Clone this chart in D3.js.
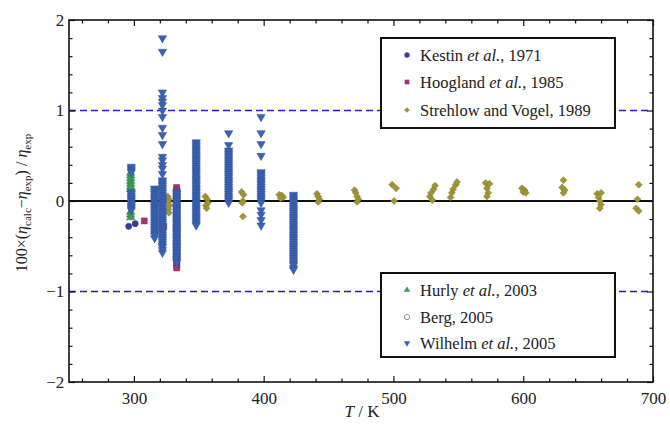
<!DOCTYPE html>
<html><head><meta charset="utf-8">
<script src="https://cdn.jsdelivr.net/npm/d3@7"></script>
<style>body{margin:0;background:#fff}svg{display:block}text{font-family:"Liberation Serif","DejaVu Serif",serif;fill:#222}</style>
</head><body><svg id="c" width="670" height="427"></svg>
<script>
// ---- data ----
const xMajorTicks = [300, 400, 500, 600, 700];
const yMajorTicks = [-2, -1, 0, 1, 2];
const kestin = [[296, -0.28], [301, -0.25]];
const hoogland = [[308, -0.22], [323, -0.28]];
const hooglandT333 = [0.15,0.12,0.09,0.06,0.03,0.0,-0.03,-0.06,-0.09,-0.12,-0.15,-0.18,-0.21,-0.24,-0.27,-0.3,-0.33,-0.36,-0.39,-0.42,-0.45,-0.48,-0.51,-0.54,-0.57,-0.6,-0.63,-0.66,-0.69,-0.72,-0.74];
const strehlow = [
  [326,0.05],[327,0.02],[326.5,-0.01],[327.5,-0.05],[326.5,-0.09],[327,-0.13],
  [355,0.05],[356.5,0.02],[357,-0.02],[355.5,-0.05],[356,-0.08],
  [383,0.1],[384.5,0.07],[384,0.0],[383.5,-0.02],[384,-0.17],
  [412,0.07],[414,0.06],[415,0.04],[413,0.03],
  [441,0.08],[442,0.05],[443,0.02],[442,-0.01],
  [470,0.12],[471,0.09],[472,0.05],[473,0.02],[472,-0.01],
  [499,0.18],[502,0.14],[500.5,0.0],
  [528,0.05],[529,0.09],[531,0.13],[532,0.17],[530,0.01],
  [544,0.04],[545,0.09],[546,0.13],[548,0.18],[549,0.21],
  [571,0.2],[574,0.19],[572,0.14],[573,0.09],[572,0.05],
  [599,0.14],[601,0.12],[600,0.1],[602,0.09],
  [631,0.23],[630,0.15],[632,0.12],[631,0.09],
  [657,0.08],[660,0.09],[658,0.04],[659,0.0],[660,-0.04],[659,-0.08],
  [689,0.18],[688,0.02],[687,-0.08],[689,-0.11]
];
const hurly = [[297.5,0.31],[297.5,0.28],[297.5,0.25],[297.5,0.22],[297.5,0.19],[297.5,0.16],[297.5,0.13],[297.5,-0.12],[297.5,-0.15],[297.5,-0.18]];
const berg = [[298, 0.0], [298, -0.04]];
const wilhelmTemps = [298, 316, 322, 333, 348, 373, 398, 423];
const wilhelmValues = [
  [0.38,0.36,0.34,0.32,0.1,0.08,0.06,0.04,0.02,0.0,-0.02,-0.04,-0.06,-0.08,-0.1],
  [0.14,0.12,0.1,0.08,0.06,0.04,0.02,0.0,-0.02,-0.04,-0.06,-0.08,-0.1,-0.12,-0.14,-0.16,-0.18,-0.2,-0.22,-0.24,-0.26,-0.28,-0.3,-0.32,-0.34,-0.36,-0.38,-0.41],
  [1.80,1.65,1.20,1.14,1.10,1.06,1.00,0.93,0.81,0.73,0.63,0.49,0.45,0.40,0.36,0.30,0.23,0.21,0.19,0.17,0.15,0.13,0.11,0.09,0.07,0.05,0.03,0.01,-0.01,-0.03,-0.05,-0.07,-0.09,-0.11,-0.13,-0.15,-0.17,-0.19,-0.21,-0.23,-0.25,-0.27,-0.29,-0.31,-0.33,-0.35,-0.37,-0.39,-0.41,-0.43,-0.45,-0.47,-0.49,-0.51,-0.54,-0.57],
  [0.1,0.08,0.06,0.04,0.02,0.0,-0.02,-0.04,-0.06,-0.08,-0.1,-0.12,-0.14,-0.16,-0.18,-0.2,-0.22,-0.24,-0.26,-0.28,-0.3,-0.32,-0.34,-0.36,-0.38,-0.4,-0.42,-0.44,-0.46,-0.48,-0.5,-0.52,-0.54,-0.56,-0.58,-0.6,-0.62,-0.64,-0.66,-0.68],
  [0.65,0.63,0.61,0.59,0.57,0.55,0.53,0.51,0.49,0.47,0.45,0.43,0.41,0.39,0.37,0.35,0.33,0.31,0.29,0.27,0.25,0.23,0.21,0.19,0.17,0.15,0.13,0.11,0.09,0.07,0.05,0.03,0.01,-0.01,-0.03,-0.05,-0.07,-0.09,-0.11,-0.13,-0.15,-0.17,-0.19,-0.21,-0.23,-0.25,-0.27],
  [0.75,0.62,0.56,0.54,0.52,0.5,0.48,0.46,0.44,0.42,0.4,0.38,0.36,0.34,0.32,0.3,0.28,0.26,0.24,0.22,0.2,0.18,0.16,0.14,0.12,0.1,0.08,0.06,0.04,0.02,0.0,-0.02],
  [0.93,0.75,0.63,0.5,0.32,0.3,0.28,0.26,0.24,0.22,0.2,0.18,0.16,0.14,0.12,0.1,0.08,0.06,0.04,0.02,0.0,-0.02,-0.1,-0.15,-0.21,-0.27],
  [0.07,0.05,0.03,0.01,-0.01,-0.03,-0.05,-0.07,-0.09,-0.11,-0.13,-0.15,-0.17,-0.19,-0.21,-0.23,-0.25,-0.27,-0.29,-0.31,-0.33,-0.35,-0.37,-0.39,-0.41,-0.43,-0.45,-0.47,-0.49,-0.51,-0.53,-0.55,-0.57,-0.59,-0.61,-0.63,-0.65,-0.67,-0.69,-0.71,-0.74,-0.76]
];

// ---- build ----
const svg = d3.select("#c");
const x = d3.scaleLinear().domain([250, 700]).range([69, 653]);
const y = d3.scaleLinear().domain([-2, 2]).range([382, 20]);
const col = {kestin:"#3c3a98", hoogland:"#a0366f", strehlow:"#9f9537", hurly:"#3f9b55", berg:"#999", wilhelm:"#3b62b3"};
const edge = {kestin:"#2e2c80", hoogland:"#86285a", strehlow:"#857b2a", hurly:"#2f8245", berg:"#999", wilhelm:"#2e4e98"};

// reference lines
[1, -1].forEach(v => svg.append("line").attr("x1", x(250)).attr("x2", x(700)).attr("y1", y(v)).attr("y2", y(v))
  .attr("stroke", "#1c1cd0").attr("stroke-width", 1.6).attr("stroke-dasharray", "7,4"));
svg.append("line").attr("x1", x(250)).attr("x2", x(700)).attr("y1", y(0)).attr("y2", y(0)).attr("stroke", "#111").attr("stroke-width", 1.8);

const sym = {
  circle: d3.symbol().type(d3.symbolCircle).size(30)(),
  square: d3.symbol().type(d3.symbolSquare).size(36)(),
  diamond: d3.symbol().type(d3.symbolSquare).size(24)(),
  tri: d3.symbol().type(d3.symbolTriangle).size(30)()
};
function plot(data, path, key, rot, open) {
  svg.append("g").selectAll("path").data(data).join("path")
    .attr("d", path)
    .attr("transform", d => `translate(${x(d[0])},${y(d[1])}) rotate(${rot})`)
    .attr("fill", open ? "none" : col[key])
    .attr("stroke", edge[key]).attr("stroke-width", open ? 1 : 0.5);
}
plot(kestin, sym.circle, "kestin", 0);
plot(hoogland.concat(hooglandT333.map(v => [333, v])), sym.square, "hoogland", 0);
plot(strehlow, sym.diamond, "strehlow", 45);
plot(hurly, sym.tri, "hurly", 0);
plot(berg, sym.circle, "berg", 0, true);
const wilhelm = wilhelmTemps.flatMap((t, i) => wilhelmValues[i].map(v => [t, v]));
plot(wilhelm, sym.tri, "wilhelm", 180);

// axes (ticks inward)
const xMinor = d3.range(260, 701, 20).filter(v => !xMajorTicks.includes(v));
const yMinor = d3.range(-1.8, 2, 0.2).map(v => +v.toFixed(1)).filter(v => !yMajorTicks.includes(v));
function ax(gen, scale, vals, size, tr, labels) {
  const g = svg.append("g").attr("transform", tr)
    .call(gen(scale).tickValues(vals).tickSize(size).tickFormat(labels ? (d => d < 0 ? "\u2212" + Math.abs(d) : d) : ""));
  g.select(".domain").remove();
  g.selectAll(".tick line").attr("stroke", "#111").attr("stroke-width", 1.2);
  return g;
}
const bx = ax(d3.axisBottom, x, xMajorTicks, -6, `translate(0,${y(-2)})`, true);
ax(d3.axisBottom, x, xMinor, -3.5, `translate(0,${y(-2)})`, false);
ax(d3.axisTop, x, xMajorTicks, -6, `translate(0,${y(2)})`, false);
ax(d3.axisTop, x, xMinor, -3.5, `translate(0,${y(2)})`, false);
const ly = ax(d3.axisLeft, y, yMajorTicks, -6, `translate(${x(250)},0)`, true);
ax(d3.axisLeft, y, yMinor, -3.5, `translate(${x(250)},0)`, false);
ax(d3.axisRight, y, yMajorTicks, -6, `translate(${x(700)},0)`, false);
ax(d3.axisRight, y, yMinor, -3.5, `translate(${x(700)},0)`, false);
bx.selectAll(".tick text").attr("font-size", 17).attr("font-family", "Liberation Serif").attr("fill", "#222").attr("dy", "1.1em");
ly.selectAll(".tick text").attr("font-size", 17).attr("font-family", "Liberation Serif").attr("fill", "#222").attr("dx", "-0.1em");

svg.append("rect").attr("x", x(250)).attr("y", y(2)).attr("width", x(700) - x(250)).attr("height", y(-2) - y(2))
  .attr("fill", "none").attr("stroke", "#111").attr("stroke-width", 1.6);

// axis titles
const xt = svg.append("text").attr("x", 362).attr("y", 417).attr("text-anchor", "middle").attr("font-size", 17);
xt.append("tspan").attr("font-style", "italic").text("T");
xt.append("tspan").text(" / K");
const yt = svg.append("text").attr("transform", "translate(27,203) rotate(-90)").attr("text-anchor", "middle").attr("font-size", 16);
yt.append("tspan").text("100\u00d7(");
yt.append("tspan").attr("font-style", "italic").text("\u03b7");
yt.append("tspan").attr("font-size", 11).attr("dy", 4).text("calc");
yt.append("tspan").attr("dy", -4).text("\u2212");
yt.append("tspan").attr("font-style", "italic").text("\u03b7");
yt.append("tspan").attr("font-size", 11).attr("dy", 4).text("exp");
yt.append("tspan").attr("dy", -4).text(") / ");
yt.append("tspan").attr("font-style", "italic").text("\u03b7");
yt.append("tspan").attr("font-size", 11).attr("dy", 4).text("exp");

// legends
const legend1 = [
  {pre:"Kestin ", it:"et al.", post:", 1971", s:"circle", k:"kestin", r:0},
  {pre:"Hoogland ", it:"et al.", post:", 1985", s:"square", k:"hoogland", r:0},
  {pre:"Strehlow and Vogel, 1989", it:"", post:"", s:"diamond", k:"strehlow", r:45}
];
const legend2 = [
  {pre:"Hurly ", it:"et al.", post:", 2003", s:"tri", k:"hurly", r:0},
  {pre:"Berg, 2005", it:"", post:"", s:"circle", k:"berg", r:0, open:true},
  {pre:"Wilhelm ", it:"et al.", post:", 2005", s:"tri", k:"wilhelm", r:180}
];
const lsym = {
  circle: d3.symbol().type(d3.symbolCircle).size(22)(),
  square: d3.symbol().type(d3.symbolSquare).size(22)(),
  diamond: d3.symbol().type(d3.symbolSquare).size(16)(),
  tri: d3.symbol().type(d3.symbolTriangle).size(18)()
};
function legend(items, bx0, by0, w, h, rowY) {
  svg.append("rect").attr("x", bx0).attr("y", by0).attr("width", w).attr("height", h)
    .attr("fill", "#fff").attr("stroke", "#111").attr("stroke-width", 2);
  items.forEach((it, i) => {
    const yy = rowY[i];
    svg.append("path").attr("d", lsym[it.s]).attr("transform", `translate(407,${yy}) rotate(${it.r})`)
      .attr("fill", it.open ? "none" : col[it.k]).attr("stroke", it.open ? col[it.k] : "none");
    const t = svg.append("text").attr("x", 420).attr("y", yy + 5.5).attr("font-size", 16.5);
    t.append("tspan").text(it.pre);
    if (it.it) t.append("tspan").attr("font-style", "italic").text(it.it);
    if (it.post) t.append("tspan").text(it.post);
  });
}
legend(legend1, 381, 38, 234, 90, [55, 82, 110]);
legend(legend2, 381, 273, 234, 84, [290, 317, 343]);
</script></body></html>
